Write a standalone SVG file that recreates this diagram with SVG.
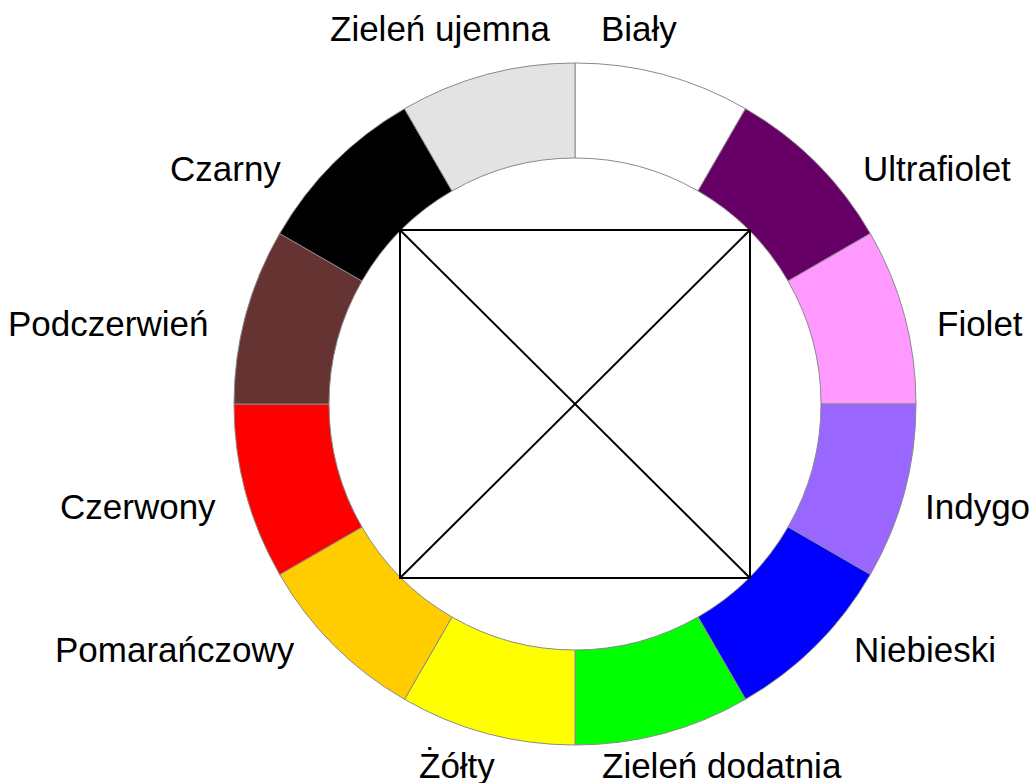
<svg xmlns="http://www.w3.org/2000/svg" width="1034" height="783" viewBox="0 0 1034 783">
<style>
.seg{stroke:#8a8a8a;stroke-width:1}
.lbl{font-family:"Liberation Sans",Arial,sans-serif;font-size:35px;fill:#000}
.ln{stroke:#000;stroke-width:2;fill:none}
</style>
<rect width="1034" height="783" fill="#fff"/>
<g id="wheel">
<path id="bialy" class="seg" fill="#ffffff" d="M575,63 A341,341 0 0 1 745.5,108.69 L698,190.96 A246,246 0 0 0 575,158 Z"/>
<path id="ultrafiolet" class="seg" fill="#660066" d="M745.5,108.69 A341,341 0 0 1 870.31,233.5 L788.04,281 A246,246 0 0 0 698,190.96 Z"/>
<path id="fiolet" class="seg" fill="#ff99ff" d="M870.31,233.5 A341,341 0 0 1 916,404 L821,404 A246,246 0 0 0 788.04,281 Z"/>
<path id="indygo" class="seg" fill="#9966ff" d="M916,404 A341,341 0 0 1 870.31,574.5 L788.04,527 A246,246 0 0 0 821,404 Z"/>
<path id="niebieski" class="seg" fill="#0000ff" d="M870.31,574.5 A341,341 0 0 1 745.5,699.31 L698,617.04 A246,246 0 0 0 788.04,527 Z"/>
<path id="zielen-dodatnia" class="seg" fill="#00ff00" d="M745.5,699.31 A341,341 0 0 1 575,745 L575,650 A246,246 0 0 0 698,617.04 Z"/>
<path id="zolty" class="seg" fill="#ffff00" d="M575,745 A341,341 0 0 1 404.5,699.31 L452,617.04 A246,246 0 0 0 575,650 Z"/>
<path id="pomaranczowy" class="seg" fill="#ffcc00" d="M404.5,699.31 A341,341 0 0 1 279.69,574.5 L361.96,527 A246,246 0 0 0 452,617.04 Z"/>
<path id="czerwony" class="seg" fill="#ff0000" d="M279.69,574.5 A341,341 0 0 1 234,404 L329,404 A246,246 0 0 0 361.96,527 Z"/>
<path id="podczerwien" class="seg" fill="#663333" d="M234,404 A341,341 0 0 1 279.69,233.5 L361.96,281 A246,246 0 0 0 329,404 Z"/>
<path id="czarny" class="seg" fill="#000000" d="M279.69,233.5 A341,341 0 0 1 404.5,108.69 L452,190.96 A246,246 0 0 0 361.96,281 Z"/>
<path id="zielen-ujemna" class="seg" fill="#e3e3e3" d="M404.5,108.69 A341,341 0 0 1 575,63 L575,158 A246,246 0 0 0 452,190.96 Z"/>
</g>
<g id="square">
<rect class="ln" x="400" y="230" width="350" height="348"/>
<line class="ln" x1="400" y1="230" x2="750" y2="578"/>
<line class="ln" x1="750" y1="230" x2="400" y2="578"/>
</g>
<g id="labels">
<text class="lbl" x="330" y="41">Zieleń ujemna</text>
<text class="lbl" x="601" y="41">Biały</text>
<text class="lbl" x="170" y="181">Czarny</text>
<text class="lbl" x="863" y="181">Ultrafiolet</text>
<text class="lbl" x="8" y="336">Podczerwień</text>
<text class="lbl" x="937" y="336">Fiolet</text>
<text class="lbl" x="60" y="519">Czerwony</text>
<text class="lbl" x="925" y="519">Indygo</text>
<text class="lbl" x="55" y="662">Pomarańczowy</text>
<text class="lbl" x="854" y="662">Niebieski</text>
<text class="lbl" x="419" y="778">Żółty</text>
<text class="lbl" x="602" y="778">Zieleń dodatnia</text>
</g>
</svg>
